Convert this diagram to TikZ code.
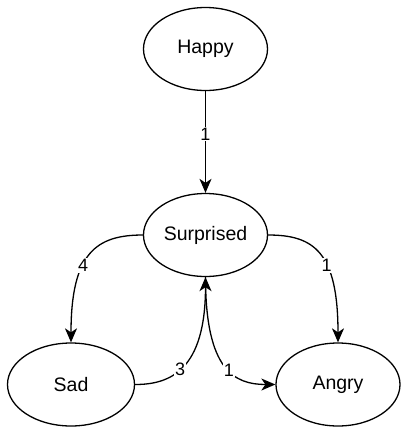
\documentclass[tikz,border=0pt]{standalone}
\usepackage{fontspec}
\setmainfont{Liberation Sans}
\usetikzlibrary{arrows.meta,shapes.geometric}
\tikzset{
  state/.style={draw, ellipse, line width=1.3bp, minimum width=124bp, minimum height=83bp,
    inner sep=0pt, font=\fontsize{19.5bp}{23bp}\selectfont},
  edge/.style={line width=1.3bp, -{Stealth[length=14bp, width=12bp, inset=4bp]}},
  lbl/.style={fill=white, inner sep=1bp, font=\fontsize{18bp}{21bp}\selectfont}
}
\begin{document}
\begin{tikzpicture}[x=1bp, y=-1bp]
\useasboundingbox (0,0) rectangle (401,427);
% states
\node[state] (happy) at (205.5,49) {Happy};
\node[state] (surp) at (205.5,235) {Surprised};
\node[state, minimum width=127bp] (sad) at (71,384.5) {Sad};
\node[state] (angry) at (338,384.5) {Angry};
% transitions
\draw[edge] (happy.south) -- (surp.north) node[lbl, pos=0.42] {1};
\draw[edge] (surp.west) .. controls +(-46,0) and +(0,-90) .. (sad.north)
  node[lbl, pos=0.6] {4};
\draw[edge] (surp.east) .. controls +(46,0) and +(0,-90) .. (angry.north)
  node[lbl, pos=0.6] {1};
\draw[edge] (sad.east) .. controls +(35,0) and +(0,93) .. (surp.south)
  node[lbl, pos=0.46] {3};
\draw[edge] (surp.south) .. controls +(0,93) and +(-41,0) .. (angry.west)
  node[lbl, pos=0.55] {1};
\end{tikzpicture}
\end{document}
